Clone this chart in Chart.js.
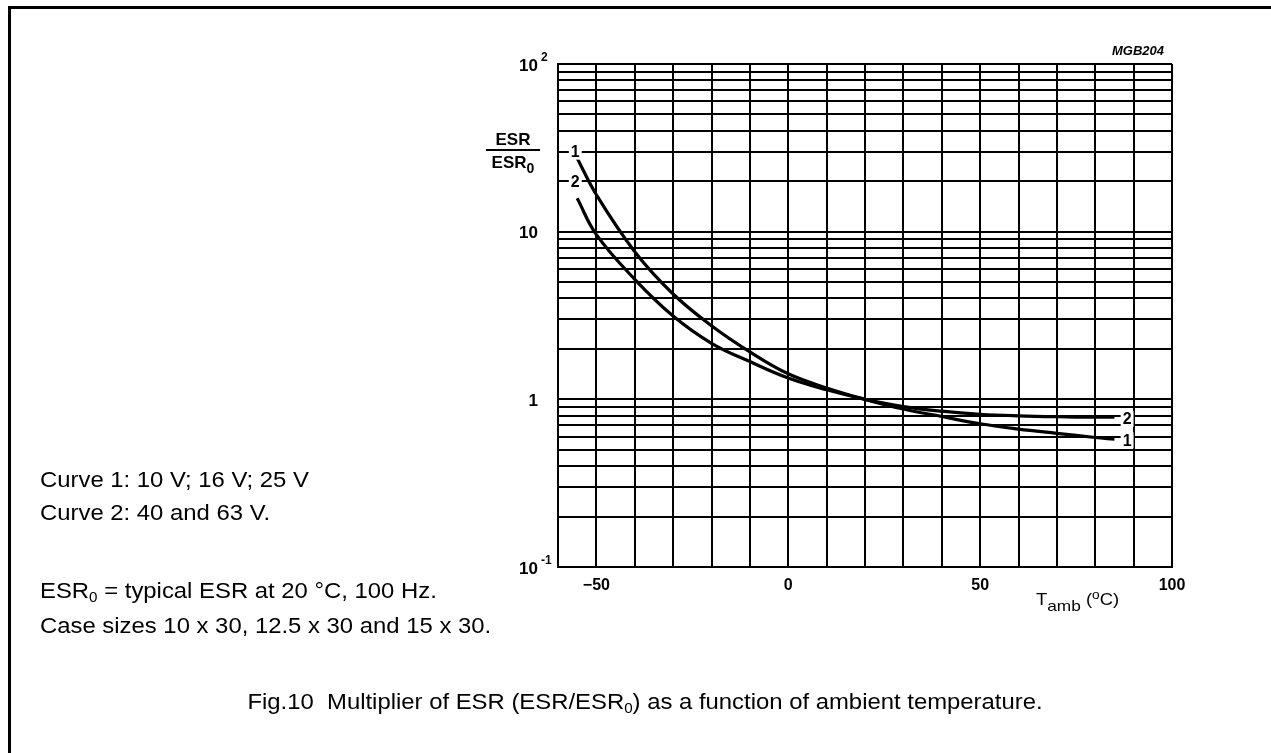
<!DOCTYPE html>
<html lang="en">
<head>
<meta charset="UTF-8">
<title>Multiplier of ESR vs ambient temperature</title>
<script src="https://cdn.jsdelivr.net/npm/chart.js"></script>
<style>
  html, body { margin: 0; padding: 0; background: #fff; }
  body {
    width: 1271px; height: 753px; position: relative; overflow: hidden;
    font-family: "Liberation Sans", Arial, sans-serif; color: #000;
  }
  #frame {
    position: absolute; left: 8px; top: 6px; width: 1400px; height: 900px;
    border-top: 3px solid #000; border-left: 3px solid #000;
  }
  #plot { position: absolute; left: 0; top: 0; }
  .note {
    position: absolute; left: 40px; font-size: 22px; line-height: 1; white-space: nowrap;
    transform: scaleX(1.085); transform-origin: left center;
  }
  .note sub, #caption sub { font-size: 14px; vertical-align: -4px; line-height: 0; }
  #caption {
    position: absolute; left: 145px; width: 1000px; top: 691px;
    text-align: center; font-size: 22px; line-height: 1; white-space: nowrap;
    transform: scaleX(1.085); transform-origin: center center;
  }
  #ytitle {
    position: absolute; left: 486px; top: 131px; width: 54px;
    font-size: 17px; font-weight: bold; text-align: center; line-height: 1;
  }
  #ytitle .num { border-bottom: 2px solid #000; padding-bottom: 1px; }
  #ytitle .den { padding-top: 3px; }
  #ytitle sub { font-size: 14px; vertical-align: -5px; line-height: 0; }
  #xtitle {
    position: absolute; left: 1036px; top: 592px; font-size: 16px; white-space: nowrap; line-height: 1;
    transform: scaleX(1.15); transform-origin: left center;
  }
  #xtitle sub { font-size: 15px; vertical-align: -6px; line-height: 0; }
  #xtitle sup { font-size: 12px; vertical-align: 6px; line-height: 0; }
  #code {
    position: absolute; left: 1080px; top: 44px; width: 84px; text-align: right;
    font-size: 13px; font-weight: bold; font-style: italic; line-height: 1;
  }
</style>
</head>
<body>
  <div id="frame"></div>
  <canvas id="plot" width="1271" height="753"></canvas>

  <div id="code">MGB204</div>
  <div id="ytitle"><div class="num">ESR</div><div class="den">ESR<sub>0</sub></div></div>
  <div id="xtitle">T<sub>amb</sub> (<sup>o</sup>C)</div>

  <div class="note" style="top:469px">Curve 1: 10 V; 16 V; 25 V</div>
  <div class="note" style="top:502px">Curve 2: 40 and 63 V.</div>
  <div class="note" style="top:580px">ESR<sub>0</sub> = typical ESR at 20 °C, 100 Hz.</div>
  <div class="note" style="top:615px">Case sizes 10 x 30, 12.5 x 30 and 15 x 30.</div>
  <div id="caption">Fig.10&nbsp; Multiplier of ESR (ESR/ESR<sub>0</sub>) as a function of ambient temperature.</div>

  <script>
    // ambient temperature, deg C
    const temps = [-55, -50, -40, -30, -20, -10, 0, 10, 20, 30, 40, 50, 60, 70, 80, 85];
    // ESR / ESR0 multipliers
    const curve1 = [27.4, 16.6, 7.6, 4.25, 2.75, 1.92, 1.42, 1.17, 1.0, 0.875, 0.79, 0.715, 0.665, 0.627, 0.592, 0.578];
    const curve2 = [15.8, 9.6, 5.2, 3.14, 2.16, 1.68, 1.34, 1.14, 1.0, 0.905, 0.85, 0.815, 0.797, 0.787, 0.782, 0.783];

    // axis ticks
    const xLabelValues = [-50, 0, 50, 100];
    const yLabelValues = [0.1, 1, 10, 100];
    const yLabelBase = ['10', '1', '10', '10'];
    const yLabelExp = ['-1', '', '', '2'];

    // curve number tags (data coordinates)
    const tagText = ['1', '2', '2', '1'];
    const tagX = [-55.5, -55.5, 88.3, 88.3];
    const tagY = [30, 20, 0.765, 0.57];

    // log grid: 1..9 per decade
    const yGrid = [];
    [0.1, 1, 10].forEach(d => {
      for (let m = 1; m <= 9; m++) yGrid.push(Math.round(m * d * 1000) / 1000);
    });
    yGrid.push(100);

    const toPoints = ys => temps.map((t, i) => ({ x: t, y: ys[i] }));
    const FONT = '"Liberation Sans", Arial, sans-serif';

    const yLabels = {
      id: 'yLabels',
      afterDraw(chart) {
        const ctx = chart.ctx;
        const y = chart.scales.y;
        const baseRight = chart.chartArea.left - 20;
        ctx.save();
        ctx.fillStyle = '#000';
        ctx.textBaseline = 'middle';
        ctx.textAlign = 'right';
        yLabelValues.forEach((v, i) => {
          const py = y.getPixelForValue(v);
          ctx.font = 'bold 17px ' + FONT;
          ctx.fillText(yLabelBase[i], baseRight, py + 2);
          if (yLabelExp[i]) {
            ctx.font = 'bold 12px ' + FONT;
            ctx.textAlign = 'left';
            ctx.fillText(yLabelExp[i], baseRight + 3, py - 6);
            ctx.textAlign = 'right';
          }
        });
        ctx.restore();
      }
    };

    const curveTags = {
      id: 'curveTags',
      afterDatasetsDraw(chart) {
        const ctx = chart.ctx;
        const xs = chart.scales.x, ys = chart.scales.y;
        ctx.save();
        ctx.font = 'bold 16px ' + FONT;
        ctx.textAlign = 'center';
        ctx.textBaseline = 'middle';
        tagText.forEach((t, i) => {
          const px = xs.getPixelForValue(tagX[i]);
          const py = ys.getPixelForValue(tagY[i]);
          const w = ctx.measureText(t).width + 4;
          ctx.fillStyle = '#fff';
          ctx.fillRect(px - w / 2, py - 8, w, 16);
          ctx.fillStyle = '#000';
          ctx.fillText(t, px, py + 1);
        });
        ctx.restore();
      }
    };

    const lineStyle = {
      borderColor: '#000',
      borderWidth: 3.2,
      pointRadius: 0,
      fill: false,
      tension: 0.4
    };

    new Chart(document.getElementById('plot').getContext('2d'), {
      type: 'line',
      data: {
        datasets: [
          Object.assign({ label: 'Curve 1', data: toPoints(curve1) }, lineStyle),
          Object.assign({ label: 'Curve 2', data: toPoints(curve2) }, lineStyle)
        ]
      },
      options: {
        responsive: false,
        animation: false,
        events: [],
        layout: { padding: { left: 498, right: 99, top: 64, bottom: 151 } },
        plugins: { legend: { display: false }, tooltip: { enabled: false } },
        scales: {
          x: {
            type: 'linear',
            min: -60,
            max: 100,
            afterFit: s => { s.height = 35; },
            grid: { color: '#000', lineWidth: 2, drawTicks: false },
            border: { display: true, color: '#000', width: 2 },
            ticks: {
              stepSize: 10,
              autoSkip: false,
              maxRotation: 0,
              padding: 9,
              color: '#000',
              font: { family: FONT, size: 16, weight: 'bold' },
              callback: v => xLabelValues.includes(v) ? (v < 0 ? '\u2212' + Math.abs(v) : String(v)) : ''
            }
          },
          y: {
            type: 'logarithmic',
            min: 0.1,
            max: 100,
            afterFit: s => { s.width = 60; },
            afterBuildTicks: s => { s.ticks = yGrid.map(value => ({ value })); },
            grid: { color: '#000', lineWidth: 2, drawTicks: false },
            border: { display: true, color: '#000', width: 2 },
            ticks: { display: false }
          }
        }
      },
      plugins: [yLabels, curveTags]
    });
  </script>
</body>
</html>
